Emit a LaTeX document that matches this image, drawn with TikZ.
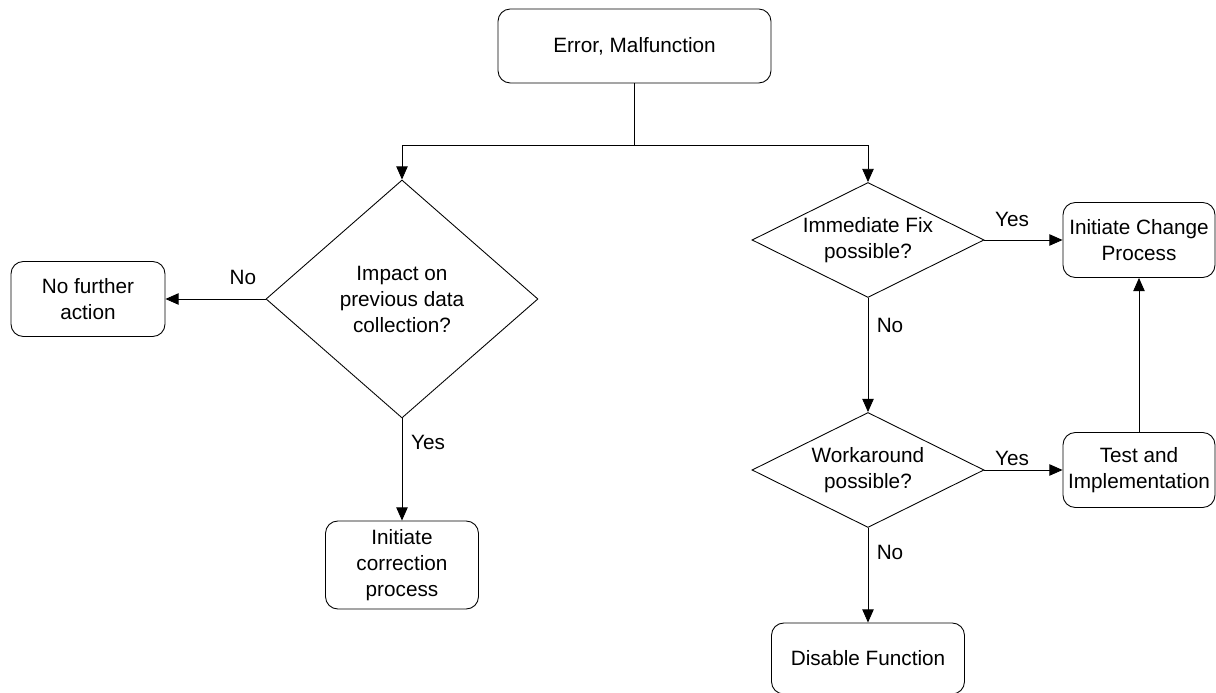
\documentclass[tikz,border=0pt]{standalone}
\usepackage{fontspec}
\setmainfont{Liberation Sans}
\usetikzlibrary{positioning,shapes.geometric,arrows.meta}

\begin{document}
\begin{tikzpicture}[
  font=\fontsize{11.8}{14.8}\selectfont,
  line width=0.5pt,
  actionbox/.style={draw, rounded corners=7pt, align=center, inner sep=0pt},
  decision/.style={draw, diamond, align=center, inner sep=0pt},
  arrowline/.style={-{Triangle[length=7.5pt,width=6.5pt]}}
]
\useasboundingbox (0 cm,0 cm) rectangle (24.32 cm,13.86 cm);
\node[actionbox, minimum width=5.46cm, minimum height=1.48cm] (node_error) at (12.69 cm, 12.94 cm) {Error, Malfunction};
\node[decision, minimum width=5.44cm, minimum height=4.76cm] (node_impact) at (8.04 cm, 7.88 cm) {Impact on\\previous data\\collection?};
\node[actionbox, minimum width=3.08cm, minimum height=1.5cm] (node_none) at (1.76 cm, 7.88 cm) {No further\\action};
\node[actionbox, minimum width=3.06cm, minimum height=1.76cm] (node_correct) at (8.04 cm, 2.56 cm) {Initiate\\correction\\process};
\node[decision, shape aspect=2, minimum width=4.64cm, minimum height=2.3cm] (node_fix) at (17.36 cm, 9.06 cm) {Immediate Fix\\possible?};
\node[actionbox, minimum width=3.04cm, minimum height=1.5cm] (node_change) at (22.78 cm, 9.06 cm) {Initiate Change\\Process};
\node[decision, shape aspect=2, minimum width=4.64cm, minimum height=2.3cm] (node_work) at (17.36 cm, 4.46 cm) {Workaround\\possible?};
\node[actionbox, minimum width=3.04cm, minimum height=1.5cm] (node_test) at (22.78 cm, 4.46 cm) {Test and\\Implementation};
\node[actionbox, minimum width=3.86cm, minimum height=1.42cm] (node_disable) at (17.36 cm, 0.69 cm) {Disable Function};
\coordinate (node_split) at (12.69 cm, 10.96 cm);
\node (lbl_no_a) at (4.86 cm, 8.32 cm) {No};
\node (lbl_yes_a) at (8.56 cm, 5.02 cm) {Yes};
\node (lbl_yes_b) at (20.24 cm, 9.48 cm) {Yes};
\node (lbl_no_b) at (17.8 cm, 7.36 cm) {No};
\node (lbl_yes_c) at (20.24 cm, 4.7 cm) {Yes};
\node (lbl_no_c) at (17.8 cm, 2.82 cm) {No};
\draw (node_error) -- (node_split);
\draw[arrowline] (node_split) -| (node_impact);
\draw[arrowline] (node_split) -| (node_fix);
\draw[arrowline] (node_impact) -- (node_none);
\draw[arrowline] (node_impact) -- (node_correct);
\draw[arrowline] (node_fix) -- (node_change);
\draw[arrowline] (node_fix) -- (node_work);
\draw[arrowline] (node_work) -- (node_test);
\draw[arrowline] (node_work) -- (node_disable);
\draw[arrowline] (node_test) -- (node_change);
\end{tikzpicture}
\end{document}
